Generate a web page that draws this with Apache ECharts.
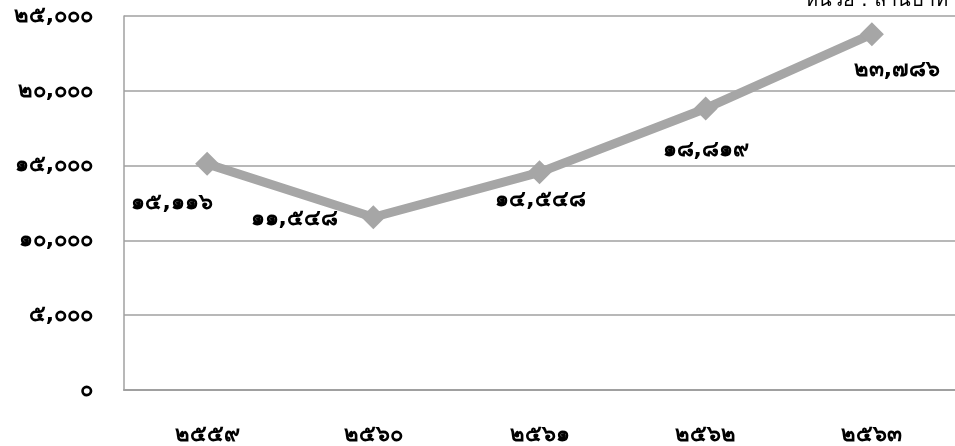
<!DOCTYPE html>
<html><head><meta charset="utf-8">
<script src="https://cdn.jsdelivr.net/npm/echarts@6/dist/echarts.min.js"></script>
<style>html,body{margin:0;padding:0;background:#fff}#c{width:955px;height:446px}</style>
</head><body><div id="c"></div>
<script>
const categories = ['๒๕๕๙', '๒๕๖๐', '๒๕๖๑', '๒๕๖๒', '๒๕๖๓'];
const values = [15116, 11548, 14548, 18819, 23786];
const valueLabels = ['๑๕,๑๑๖', '๑๑,๕๔๘', '๑๔,๕๔๘', '๑๘,๘๑๙', '๒๓,๗๘๖'];
const yTickLabels = ['๐', '๕,๐๐๐', '๑๐,๐๐๐', '๑๕,๐๐๐', '๒๐,๐๐๐', '๒๕,๐๐๐'];
const unitText = 'หน่วย : ล้านบาท';

const labelOffsets = [[-35, 39], [-79, 2], [1, 28], [0, 42], [25, 36]];
const FONT = 'Tahoma, "DejaVu Sans", "Noto Sans", sans-serif';

const chart = echarts.init(document.getElementById('c'));
chart.setOption({
  animation: false,
  grid: { left: 124, right: -9, top: 16, bottom: 53, containLabel: false },
  graphic: [{
    type: 'text', right: 7, top: -9,
    style: { text: unitText, fontSize: 20, fill: '#000', fontFamily: FONT }
  }],
  xAxis: {
    type: 'category', data: categories, boundaryGap: true,
    axisLine: { lineStyle: { color: '#a0a0a0', width: 2 } },
    axisTick: { show: false },
    axisLabel: { margin: 34, fontSize: 22, fontWeight: 'bold', color: '#000', fontFamily: FONT }
  },
  yAxis: {
    type: 'value', min: 0, max: 25000, interval: 5000,
    axisLine: { show: true, lineStyle: { color: '#a0a0a0', width: 1.5 } },
    axisTick: { show: false },
    splitLine: { lineStyle: { color: '#a0a0a0', width: 1.5 } },
    axisLabel: {
      margin: 31, fontSize: 22, fontWeight: 'bold', color: '#000', fontFamily: FONT,
      formatter: (v) => yTickLabels[Math.round(v / 5000)]
    }
  },
  series: [{
    type: 'line',
    data: values.map((v, i) => ({
      value: v,
      label: { offset: labelOffsets[i] }
    })),
    lineStyle: { color: '#a6a6a6', width: 9 },
    itemStyle: { color: '#a6a6a6' },
    symbol: 'diamond', symbolSize: 24,
    label: {
      show: true, position: 'inside', align: 'center', verticalAlign: 'middle',
      fontSize: 22, fontWeight: 'bold', color: '#000', fontFamily: FONT,
      formatter: (p) => valueLabels[p.dataIndex]
    }
  }]
});
</script></body></html>
